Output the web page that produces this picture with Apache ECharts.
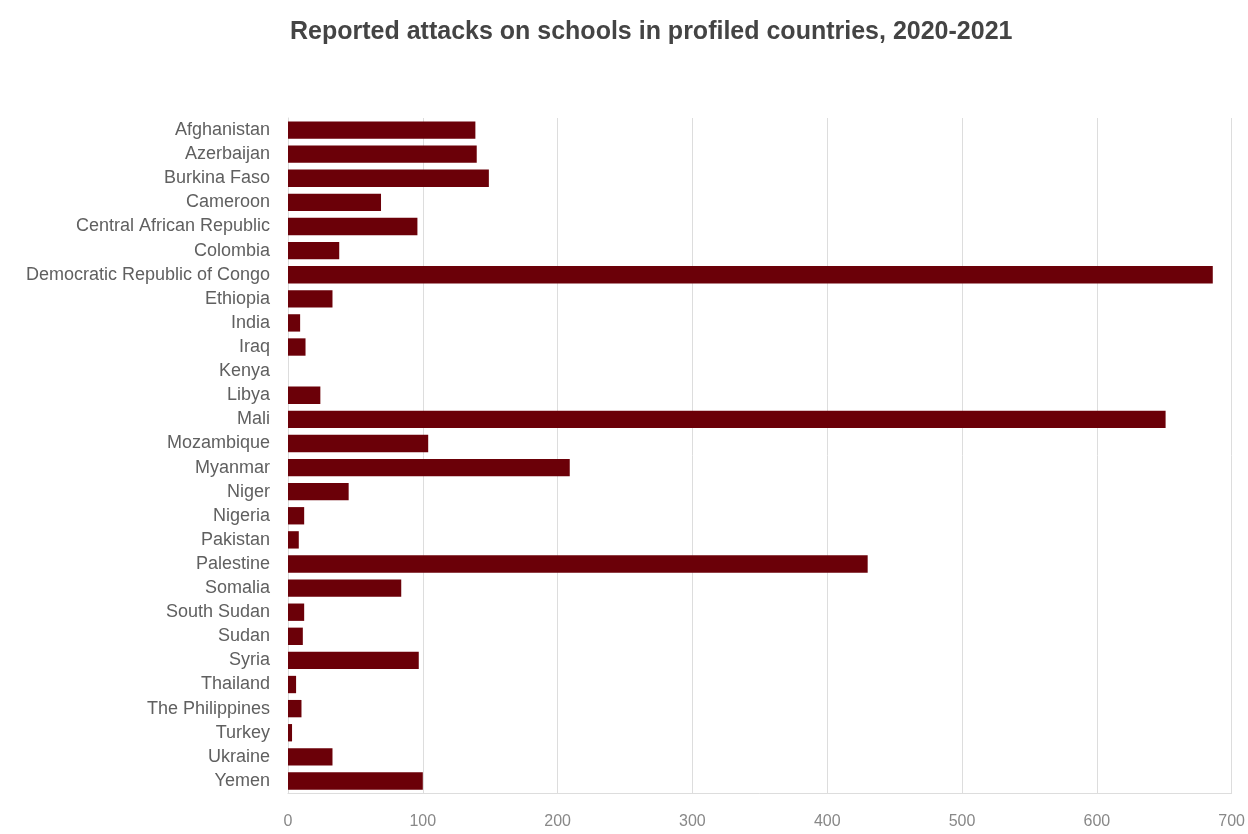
<!DOCTYPE html>
<html>
<head>
<meta charset="utf-8">
<title>Reported attacks on schools</title>
<script src="https://cdn.jsdelivr.net/npm/echarts@6/dist/echarts.min.js"></script>
<style>
  html, body { margin: 0; padding: 0; background: #fff; }
  #chart { width: 1248px; height: 834px; }
</style>
</head>
<body>
<div id="chart"></div>
<script>
const countries = [
  "Afghanistan", "Azerbaijan", "Burkina Faso", "Cameroon", "Central African Republic",
  "Colombia", "Democratic Republic of Congo", "Ethiopia", "India", "Iraq", "Kenya",
  "Libya", "Mali", "Mozambique", "Myanmar", "Niger", "Nigeria", "Pakistan",
  "Palestine", "Somalia", "South Sudan", "Sudan", "Syria", "Thailand",
  "The Philippines", "Turkey", "Ukraine", "Yemen"
];
const attacks = [
  139, 140, 149, 69, 96,
  38, 686, 33, 9, 13, 0,
  24, 651, 104, 209, 45, 12, 8,
  430, 84, 12, 11, 97, 6,
  10, 3, 33, 100
];
const xTicks = [0, 100, 200, 300, 400, 500, 600, 700];

const chart = echarts.init(document.getElementById("chart"));

const options = {
  backgroundColor: "#ffffff",
  title: {
    text: "Reported attacks on schools in profiled countries, 2020-2021",
    left: 285,
    top: 15,
    textStyle: {
      fontFamily: "Liberation Sans",
      fontSize: 25,
      fontWeight: "bold",
      color: "#444444",
    },
  },
  grid: {
    left: 288,
    right: 15,
    top: 118,
    bottom: 41,
  },
  xAxis: {
    type: "value",
    min: xTicks[0],
    max: xTicks[xTicks.length - 1],
    interval: 100,
    axisLine: { show: true, lineStyle: { color: "#dddddd" } },
    axisTick: { show: false },
    splitLine: { lineStyle: { color: "#dddddd", width: 1 } },
    axisLabel: {
      margin: 21,
      fontFamily: "Liberation Sans",
      fontSize: 16,
      color: "#888888",
    },
  },
  yAxis: {
    type: "category",
    data: countries,
    inverse: true,
    axisLine: { show: true, lineStyle: { color: "#dddddd" } },
    axisTick: { show: false },
    axisLabel: {
      interval: 0,
      margin: 18,
      fontFamily: "Liberation Sans",
      fontSize: 18,
      color: "#606060",
    },
  },
  series: [
    {
      type: "bar",
      data: attacks,
      barCategoryGap: "28%",
      itemStyle: {
        color: "#6b0008",
      },
      silent: true,
    },
  ],
};

chart.setOption(options);
</script>
</body>
</html>
